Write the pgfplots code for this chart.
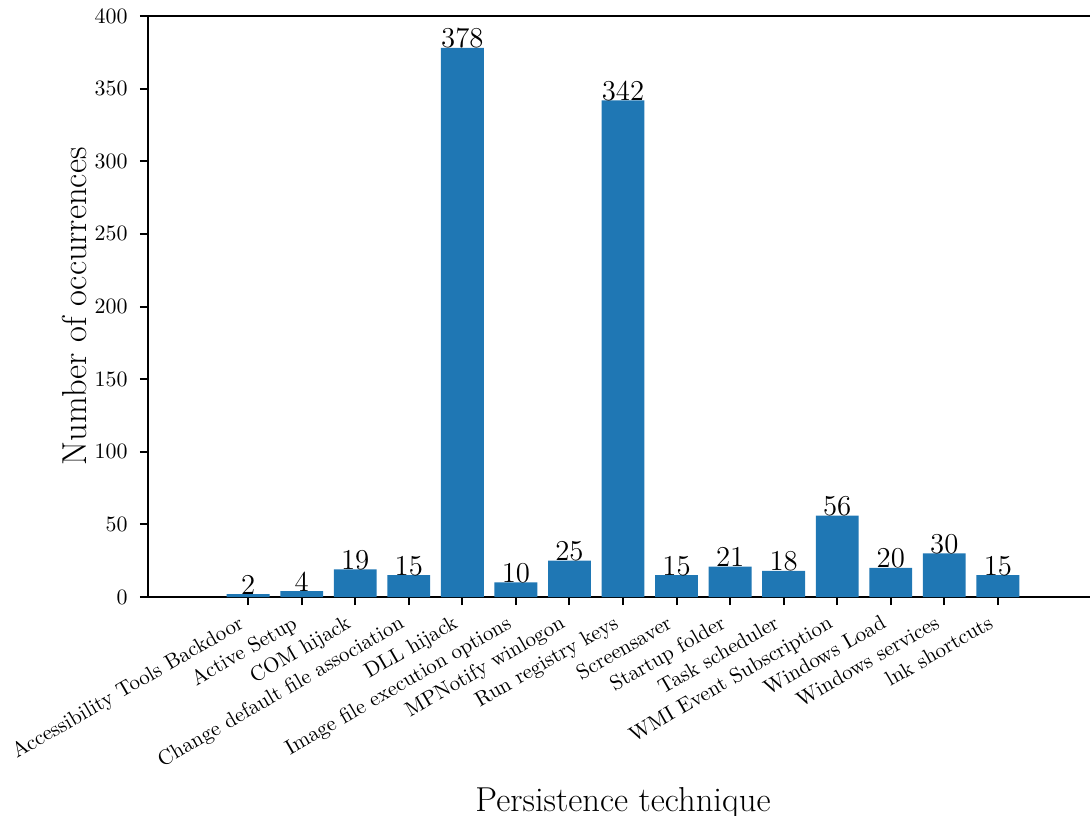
\documentclass[border=0pt]{standalone}
\usepackage{pgfplots}
\pgfplotsset{compat=1.18}
\definecolor{tabblue}{HTML}{1F77B4}
\begin{document}
\begin{tikzpicture}
\begin{axis}[
  at={(0,0)}, anchor=south west,
  width=475pt, height=290.5pt, scale only axis,
  xmin=-1.87, xmax=15.87, ymin=0, ymax=400,
  ytick={0,50,...,400},
  xtick={0,...,14},
  xticklabels={Accessibility Tools Backdoor, Active Setup, COM hijack, Change default file association, DLL hijack, Image file execution options, MPNotify winlogon, Run registry keys, Screensaver, Startup folder, Task scheduler, WMI Event Subscription, Windows Load, Windows services, lnk shortcuts},
  xtick pos=left, ytick pos=left,
  tick align=outside,
  major tick length=4pt,
  every tick/.style={black, line width=1pt},
  axis line style={line width=1pt},
  tick label style={font=\fontsize{10.5}{12}\selectfont},
  xticklabel style={xshift=-5pt, yshift=-3pt, rotate=30, anchor=north east, inner sep=1pt},
  yticklabel style={inner sep=0pt, xshift=-6pt},
  every axis x label/.style={at={(axis description cs:0.5,0)}, anchor=base, yshift=-107pt, font=\fontsize{17.3}{20}\selectfont},
  every axis y label/.style={at={(axis description cs:0,0.5)}, xshift=-30.5pt, anchor=base, rotate=90, font=\fontsize{17.3}{20}\selectfont},
  xlabel={Persistence technique},
  ylabel={Number of occurrences},
  ybar, bar width=0.8, bar shift=0pt,
  nodes near coords,
  every node near coord/.append style={anchor=base, inner sep=0pt, yshift=0pt, font=\fontsize{15}{18}\selectfont, black},
]
\addplot[fill=tabblue, draw=none] coordinates {
(0,2) (1,4) (2,19) (3,15) (4,378) (5,10) (6,25) (7,342) (8,15) (9,21) (10,18) (11,56) (12,20) (13,30) (14,15)
};
\end{axis}
\pgfresetboundingbox
\useasboundingbox (-74pt,-109pt) rectangle (471pt,298.5pt);
\end{tikzpicture}
\end{document}
